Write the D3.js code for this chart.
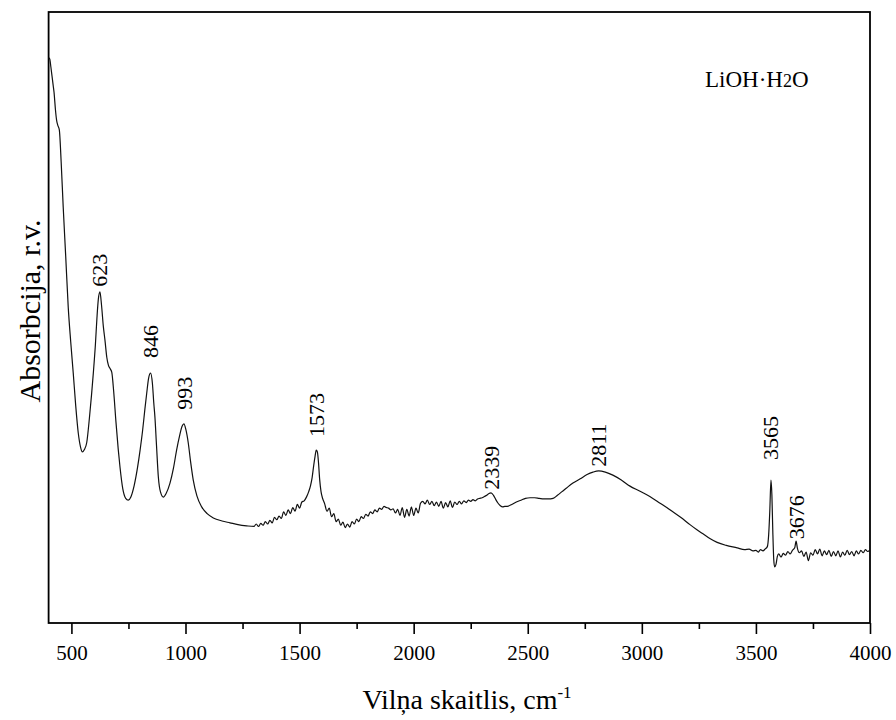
<!DOCTYPE html>
<html>
<head>
<meta charset="utf-8">
<script src="https://cdn.jsdelivr.net/npm/d3@7"></script>
<style>
  html, body { margin: 0; padding: 0; background: #fff; }
  svg { display: block; }
  svg text { font-family: "Liberation Serif", "Times New Roman", serif !important; fill: #000; }
</style>
</head>
<body>
<svg id="chart" width="896" height="720"></svg>
<script>
// ---- data ----
const wavenumber = [
  400,405,410,415,420,424,430,435,440,447,455,464,475,486,497,508,519,530,540,548,557,567,580,596,605,612,618,625,632,640,647,655,662,670,677,685,695,705,713,725,738,749,760,775,790,801,812,822,830,838,847,855,861,866,873,881,890,903,915,932,947,961,975,985,993,1002,1012,1022,1034,1050,1071,1095,1122,1160,1195,1230,1268,1300,
  1310,1320,1330,1340,1350,1360,1370,1380,1390,1400,1410,1420,1430,1440,1450,1460,1470,1480,1490,1500,1510,1520,1530,1540,1548,1555,1562,1568,1573,1578,1583,1588,1594,1600,
  1610,1620,1630,1640,1650,1660,1670,1680,1690,1700,1710,1720,1730,1740,1750,1760,1770,1780,1790,1800,1810,1820,1830,1840,1850,1860,1870,1880,1890,1900,1910,1920,1930,1940,1950,1960,1970,1980,1990,2000,2010,2020,2030,2040,2050,2060,2070,2080,2090,2100,2110,2120,2130,2140,2150,2160,2170,2180,2190,2200,2210,2220,2230,2240,2250,2260,2270,2280,2290,2300,2310,2320,2330,2339,2350,2360,2370,2380,2390,2400,
  2410,2430,2450,2470,2490,2510,2530,2550,2570,2590,2611,2630,2650,2670,2698,2730,2760,2786,2811,2840,2873,2910,2948,2990,3035,3080,3136,3170,3211,3240,3268,3300,3330,3370,3418,3450,3470,3487,3500,3510,3520,3531,3540,3550,3556,3561,3566,3570,3574,3578,3582,3588,3594,3600,
  3610,3620,3630,3640,3650,3660,3670,3676,3682,3690,3700,3710,3720,3730,3740,3750,3760,3770,3780,3790,3800,3810,3820,3830,3840,3850,3860,3870,3880,3890,3900,3910,3920,3930,3940,3950,3960,3970,3980,3990,4000
];
const absorbance = [
  92.5,92.3,91.0,89.5,88.0,86.8,84.0,82.3,81.5,80.7,75.5,68.1,60.0,51.7,46.0,40.9,35.5,31.1,28.8,28.0,28.4,29.5,34.0,40.9,45.5,50.0,53.0,54.2,52.0,48.5,46.3,43.5,42.2,41.6,41.0,38.0,33.0,28.5,25.5,22.0,20.4,20.1,20.6,22.5,25.5,28.3,31.5,35.0,37.6,40.0,40.9,39.2,36.0,33.7,29.0,23.9,21.5,20.6,21.2,22.9,25.3,28.3,30.8,32.2,32.6,31.6,29.5,26.5,23.4,20.8,19.0,17.9,17.2,16.7,16.4,16.1,15.9,15.8,
  16.2,15.8,16.3,16.0,16.6,16.2,16.8,16.4,17.3,16.9,17.5,17.1,18.2,17.6,18.5,17.9,18.9,18.3,19.4,18.8,19.8,20.0,20.6,21.5,22.5,23.8,25.8,27.3,28.3,28.0,26.2,23.5,21.5,20.5,
  19.5,18.3,18.8,17.4,17.9,16.6,17.0,16.0,16.5,15.6,16.2,15.7,16.6,16.2,17.0,16.6,17.4,17.1,17.8,17.5,18.2,17.9,18.5,18.2,18.8,18.6,19.1,18.9,18.8,18.5,18.7,18.0,18.6,17.6,18.9,17.3,18.6,17.5,19.0,17.6,18.8,18.0,19.6,19.9,19.5,20.1,19.4,19.9,19.2,19.8,19.1,19.9,18.8,19.7,19.0,20.0,18.9,19.8,19.4,19.9,19.5,20.0,19.7,20.1,19.9,20.2,20.0,20.3,20.4,20.5,20.7,20.9,21.2,21.3,20.9,20.2,19.6,19.2,19.0,19.1,
  19.1,19.4,19.8,20.1,20.4,20.5,20.5,20.4,20.3,20.3,20.4,20.9,21.5,22.1,22.9,23.6,24.3,24.7,24.9,24.7,24.2,23.4,22.4,21.6,20.7,19.6,18.2,17.3,16.1,15.3,14.6,13.8,13.2,12.7,12.3,12.0,12.1,11.8,11.9,11.6,12.0,11.8,12.1,12.5,14.5,18.5,23.4,21.0,15.0,10.5,9.2,9.6,10.9,11.3,
  10.8,11.4,11.1,11.7,11.3,11.9,12.3,13.4,12.2,11.5,11.8,10.9,11.6,10.2,11.5,11.1,12.0,11.3,12.1,11.0,11.8,11.2,11.9,10.9,11.7,11.0,11.8,10.8,11.6,11.1,11.9,11.2,11.7,11.0,11.8,11.3,11.9,11.5,12.0,11.7,11.9
];
const peakLabels = [623, 846, 993, 1573, 2339, 2811, 3565, 3676];
const peakHeights = [54.2, 40.9, 32.6, 28.3, 21.3, 24.9, 23.4, 13.4];
const majorTicks = [500, 1000, 1500, 2000, 2500, 3000, 3500, 4000];
const minorTicks = [750, 1250, 1750, 2250, 2750, 3250, 3750];
const sampleName = "LiOH·H";
const xTitle = "Vilņa skaitlis, cm";
const yTitle = "Absorbcija, r.v.";

// ---- layout ----
const SERIF = '"Liberation Serif", "Times New Roman", serif';
const svg = d3.select("#chart");
const mLeft = 48.6, mRight = 870, mTop = 12, mBottom = 623;
const x = d3.scaleLinear().domain([400, 4000]).range([mLeft, mRight]);
const y = d3.scaleLinear().domain([0, 100]).range([mBottom, mTop]);

const pts = wavenumber.map((w, i) => [w, absorbance[i]]);

// axis ticks
const gMajor = svg.append("g").attr("transform", `translate(0,${mBottom})`)
  .call(d3.axisBottom(x).tickValues(majorTicks).tickSize(11).tickPadding(11).tickFormat(d3.format("d")));
gMajor.attr("font-family", SERIF).attr("font-size", 21);
gMajor.select(".domain").remove();
gMajor.selectAll(".tick line").attr("stroke", "#000").attr("stroke-width", 1.6);
gMajor.selectAll(".tick text").style("font-family", SERIF).attr("font-size", 21).attr("fill", "#000");

const gMinor = svg.append("g").attr("transform", `translate(0,${mBottom})`)
  .call(d3.axisBottom(x).tickValues(minorTicks).tickSize(6).tickFormat(""));
gMinor.select(".domain").remove();
gMinor.selectAll(".tick line").attr("stroke", "#000").attr("stroke-width", 1.6);

// frame
svg.append("rect")
  .attr("x", mLeft).attr("y", mTop)
  .attr("width", mRight - mLeft).attr("height", mBottom - mTop)
  .attr("fill", "none").attr("stroke", "#000").attr("stroke-width", 1.8);

// spectrum
svg.append("path")
  .datum(pts)
  .attr("fill", "none")
  .attr("stroke", "#111")
  .attr("stroke-width", 1.2)
  .attr("stroke-linejoin", "round")
  .attr("d", d3.line().x(d => x(d[0])).y(d => y(d[1])).curve(d3.curveMonotoneX));

// peak labels
const labelGap = {623: 5, 846: 15, 993: 14, 1573: 13, 2339: 3, 2811: 4, 3565: 20, 3676: 2};
svg.append("g").selectAll("text")
  .data(peakLabels.map((p, i) => ({p, h: peakHeights[i]})))
  .join("text")
  .attr("transform", d => `translate(${x(d.p)},${y(d.h) - labelGap[d.p]}) rotate(-90)`)
  .attr("dy", "0.35em")
  .attr("text-anchor", "start")
  .style("font-family", SERIF)
  .attr("font-size", 22)
  .text(d => d.p);

// sample label
const st = svg.append("text").attr("x", 705).attr("y", 87).attr("font-size", 23).style("font-family", SERIF);
st.append("tspan").text(sampleName);
st.append("tspan").attr("font-size", 18).text("2");
st.append("tspan").text("O");

// x title
const xt = svg.append("text").attr("x", 467).attr("y", 709).attr("text-anchor", "middle")
  .attr("font-size", 28).style("font-family", SERIF);
xt.append("tspan").text(xTitle);
xt.append("tspan").attr("font-size", 17).attr("dy", -11).text("-1");

// y title
svg.append("text")
  .attr("transform", `translate(40,311) rotate(-90)`)
  .attr("text-anchor", "middle")
  .attr("font-size", 30)
  .style("font-family", SERIF)
  .text(yTitle);
</script>
</body>
</html>
